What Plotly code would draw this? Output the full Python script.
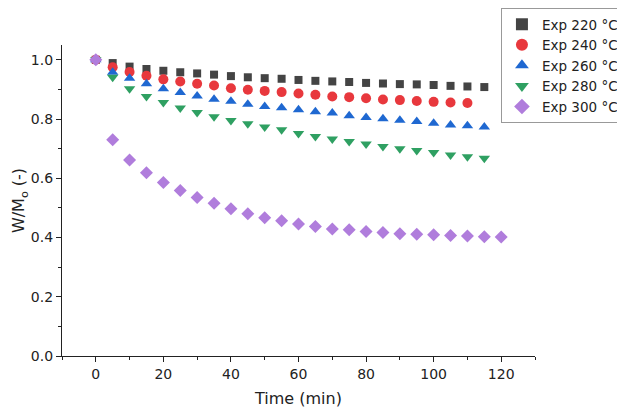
import plotly.graph_objects as go

time = [0, 5, 10, 15, 20, 25, 30, 35, 40, 45, 50, 55, 60, 65, 70, 75, 80, 85, 90, 95, 100, 105, 110, 115, 120]

w220 = [1.0, 0.989, 0.977, 0.969, 0.963, 0.958, 0.954, 0.950, 0.945, 0.941, 0.938, 0.936, 0.932,
        0.929, 0.927, 0.925, 0.922, 0.920, 0.918, 0.917, 0.915, 0.912, 0.910, 0.908]
w240 = [1.0, 0.975, 0.959, 0.946, 0.934, 0.927, 0.919, 0.913, 0.904, 0.899, 0.895, 0.891, 0.886,
        0.882, 0.876, 0.874, 0.870, 0.866, 0.864, 0.861, 0.858, 0.856, 0.854]
w260 = [1.0, 0.958, 0.938, 0.919, 0.902, 0.890, 0.878, 0.867, 0.860, 0.850, 0.842, 0.838, 0.831,
        0.825, 0.820, 0.811, 0.805, 0.801, 0.796, 0.792, 0.786, 0.780, 0.777, 0.773]
w280 = [1.0, 0.941, 0.902, 0.876, 0.856, 0.837, 0.822, 0.808, 0.795, 0.784, 0.773, 0.764, 0.751,
        0.741, 0.733, 0.724, 0.716, 0.707, 0.700, 0.694, 0.687, 0.679, 0.673, 0.668]
w300 = [1.0, 0.730, 0.662, 0.619, 0.586, 0.559, 0.535, 0.516, 0.497, 0.480, 0.467, 0.457, 0.446,
        0.437, 0.429, 0.426, 0.420, 0.417, 0.413, 0.411, 0.409, 0.407, 0.405, 0.403, 0.402]

names = ["Exp 220 °C", "Exp 240 °C", "Exp 260 °C", "Exp 280 °C", "Exp 300 °C"]
series = [w220, w240, w260, w280, w300]
symbols = ["square", "circle", "triangle-up", "triangle-down", "diamond"]
colors = ["#444444", "#e8383d", "#1f68d1", "#2fa062", "#b07ddc"]
sizes = [8, 10, 10, 10, 10]

fig = go.Figure()
for name, ys, sym, col, sz in zip(names, series, symbols, colors, sizes):
    fig.add_trace(go.Scatter(
        x=time[:len(ys)], y=ys, mode="markers", name=name,
        marker=dict(symbol=sym, color=col, size=sz, line=dict(width=0)),
    ))

FONT = "DejaVu Sans, Arial, sans-serif"
fig.update_layout(
    width=617, height=400,
    margin=dict(l=54, r=90, t=37, b=52, autoexpand=False),
    plot_bgcolor="white", paper_bgcolor="white",
    font=dict(family=FONT, size=14, color="#222222"),
    showlegend=True,
    legend=dict(
        x=0.928, y=1.119, xanchor="left", yanchor="top",
        bordercolor="#999999", borderwidth=1, bgcolor="white",
        font=dict(family=FONT, size=13.5, color="#222222"),
        itemsizing="constant", tracegroupgap=0,
    ),
    xaxis=dict(
        range=[-10, 130], tickmode="array", tickvals=[0, 20, 40, 60, 80, 100, 120],
        showgrid=False, zeroline=False, showline=True, linecolor="#222222", linewidth=1.2,
        ticks="outside", ticklen=5, tickcolor="#222222",
        minor=dict(tickvals=[-10, 10, 30, 50, 70, 90, 110, 130], ticks="outside", ticklen=3, tickcolor="#222222"),
        title=dict(text="Time (min)", font=dict(size=16), standoff=11),
    ),
    yaxis=dict(
        range=[0, 1.05], tickmode="array", tickvals=[0, 0.2, 0.4, 0.6, 0.8, 1.0],
        tickformat=".1f",
        showgrid=False, zeroline=False, showline=True, linecolor="#222222", linewidth=1.2,
        ticks="outside", ticklen=5, tickcolor="#222222",
        minor=dict(tickvals=[0.1, 0.3, 0.5, 0.7, 0.9], ticks="outside", ticklen=3, tickcolor="#222222"),
        title=dict(text="W/M<sub>o</sub> (-)", font=dict(size=16), standoff=0),
    ),
)

fig.write_html("out.html")
